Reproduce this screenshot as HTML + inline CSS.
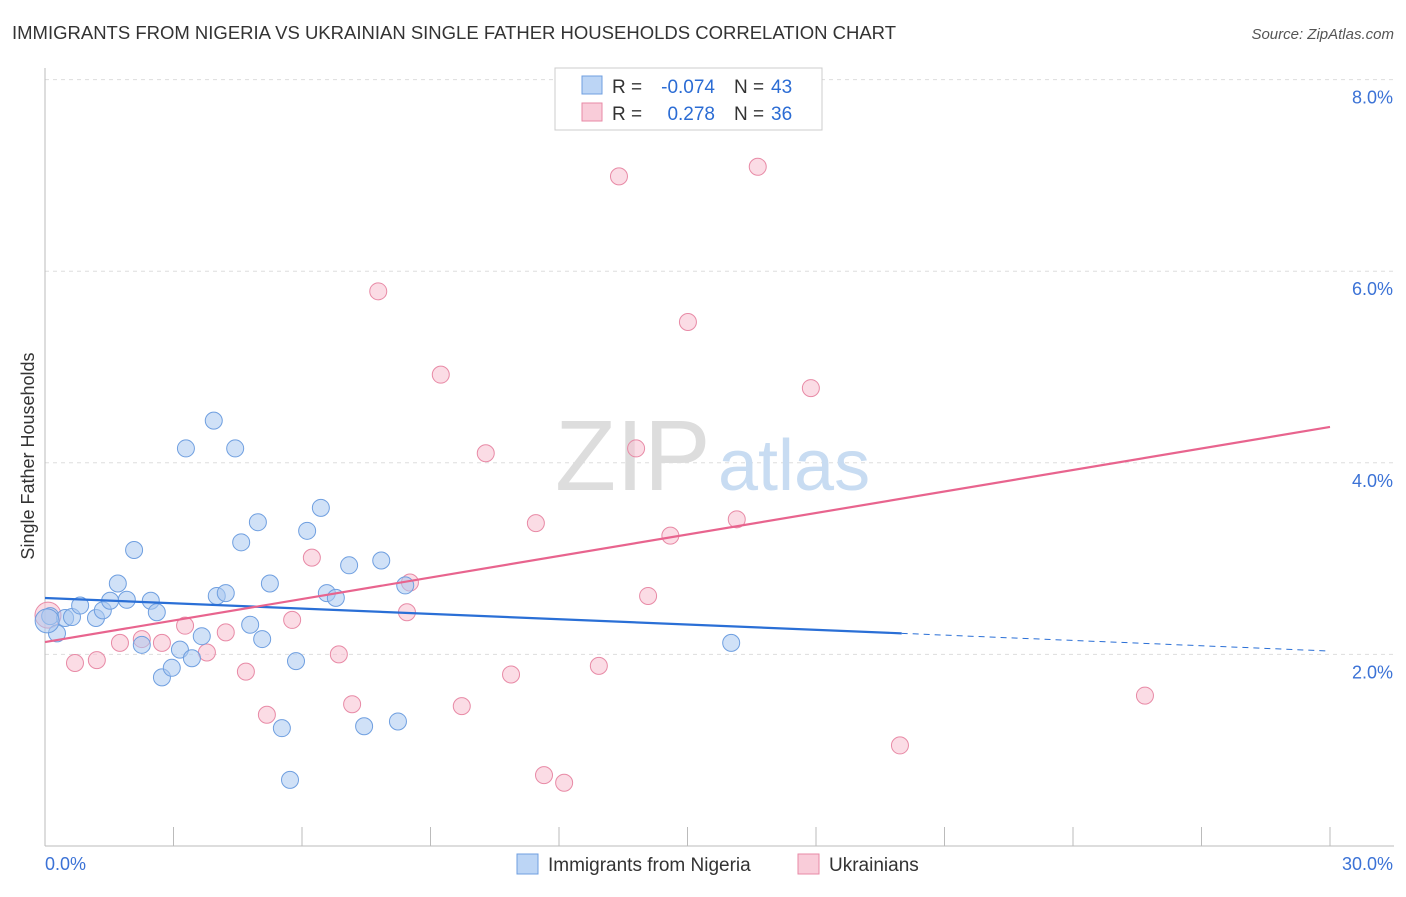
<!DOCTYPE html>
<html><head><meta charset="utf-8"><style>
body{margin:0;background:#fff;font-family:"Liberation Sans",sans-serif;}
svg text{font-family:"Liberation Sans",sans-serif;}
</style></head><body>
<svg width="1406" height="892">
<text x="12" y="39" font-size="18.5" fill="#333">IMMIGRANTS FROM NIGERIA VS UKRAINIAN SINGLE FATHER HOUSEHOLDS CORRELATION CHART</text>
<text x="1394" y="39" font-size="15" fill="#555" font-style="italic" text-anchor="end">Source: ZipAtlas.com</text>
<text x="0" y="0" font-size="18" fill="#333" transform="translate(34,456) rotate(-90)" text-anchor="middle">Single Father Households</text>
<g id="grid"></g>
<text x="555" y="490" font-size="100" fill="#ddd" font-family="Liberation Serif">ZIP</text>
<text x="718" y="490" font-size="72" fill="#c8dcf2">atlas</text>
<g id="points"></g>
<g id="lines"></g>
<g>
<rect x="555" y="68" width="267" height="62" fill="#fff" stroke="#ccc"/>
<rect x="582" y="76" width="20" height="18" fill="#bcd5f5" stroke="#6f9fe0"/>
<rect x="582" y="103" width="20" height="18" fill="#f9ccd9" stroke="#e88aa6"/>
<text x="612" y="93" font-size="19" fill="#333">R =</text>
<text x="715" y="93" font-size="19" fill="#2b6cd4" text-anchor="end">-0.074</text>
<text x="734" y="93" font-size="19" fill="#333">N =</text>
<text x="771" y="93" font-size="19" fill="#2b6cd4">43</text>
<text x="612" y="120" font-size="19" fill="#333">R =</text>
<text x="715" y="120" font-size="19" fill="#2b6cd4" text-anchor="end">0.278</text>
<text x="734" y="120" font-size="19" fill="#333">N =</text>
<text x="771" y="120" font-size="19" fill="#2b6cd4">36</text>
</g>
<g>
<rect x="517" y="854" width="21" height="20" fill="#bcd5f5" stroke="#6f9fe0"/>
<text x="548" y="871" font-size="19" fill="#333">Immigrants from Nigeria</text>
<rect x="798" y="854" width="21" height="20" fill="#f9ccd9" stroke="#e88aa6"/>
<text x="829" y="871" font-size="19" fill="#333">Ukrainians</text>
</g>
</svg>
<script>
const yTicks=[2,4,6,8];
const yTickLabels=["2.0%","4.0%","6.0%","8.0%"];
const xTickLabels=["0.0%","30.0%"];
const blueX=[0.12,0.28,0.47,0.63,0.82,1.19,1.35,1.52,1.70,1.91,2.08,2.26,2.47,2.61,2.73,2.96,3.15,3.29,3.43,3.66,3.94,4.01,4.22,4.44,4.58,4.79,4.97,5.07,5.25,5.53,5.72,5.86,6.12,6.44,6.58,6.79,7.10,7.45,7.85,8.24,8.41,16.02,0.05];
const blueY=[2.40,2.22,2.38,2.39,2.51,2.38,2.46,2.56,2.74,2.57,3.09,2.10,2.56,2.44,1.76,1.86,2.05,4.15,1.96,2.19,4.44,2.61,2.64,4.15,3.17,2.31,3.38,2.16,2.74,1.23,0.69,1.93,3.29,3.53,2.64,2.59,2.93,1.25,2.98,1.30,2.72,2.12,2.35];
const pinkX=[0.07,0.70,1.21,1.75,2.26,2.73,3.27,3.78,4.22,4.69,5.18,5.77,6.23,6.86,7.17,7.78,8.45,8.52,9.24,9.73,10.29,10.88,11.46,11.65,12.12,12.93,13.40,13.80,14.08,14.60,15.01,16.15,16.64,17.88,19.96,25.68];
const pinkY=[2.41,1.91,1.94,2.12,2.16,2.12,2.30,2.02,2.23,1.82,1.37,2.36,3.01,2.00,1.48,5.79,2.44,2.75,4.92,1.46,4.10,1.79,3.37,0.74,0.66,1.88,6.99,4.15,2.61,3.24,5.47,3.41,7.09,4.78,1.05,1.57];
const trendBlue=[2.589,2.035];
const trendPink=[2.129,4.374];
const X0=45,X1=1330,Y0=846,PY=95.8;
const sx=v=>X0+(v/30)*(X1-X0), sy=v=>Y0-v*PY;
const NS="http://www.w3.org/2000/svg";
function mk(t,a,p){const e=document.createElementNS(NS,t);for(const k in a)e.setAttribute(k,a[k]);p.appendChild(e);return e;}
const grid=document.getElementById('grid');
yTicks.forEach((t,i)=>{
 const l=mk('line',{x1:X0,x2:1394,y1:sy(t),y2:sy(t),stroke:'#ddd','stroke-dasharray':'4,4'},grid);
 
 
 const tx=mk('text',{x:1393,y:sy(t)+24,'font-size':18,fill:'#3b72d6','text-anchor':'end'},grid);
 tx.textContent=yTickLabels[i];
 
 
});
const ax=mk('line',{x1:X0,x2:X0,y1:68,y2:Y0,stroke:'#bbb'},grid);


const bx=mk('line',{x1:X0,x2:1394,y1:Y0,y2:Y0,stroke:'#bbb'},grid);


for(let i=1;i<=10;i++){const x=X0+i*(X1-X0)/10;
 const t=mk('line',{x1:x,x2:x,y1:827,y2:Y0,stroke:'#bbb'},grid);
 
 }
[[45,'start',0],[1393,'end',1]].forEach(([x,a,i])=>{
 const t=mk('text',{x:x,y:870,'font-size':18,fill:'#3b72d6','text-anchor':a},grid);
 t.textContent=xTickLabels[i];
 
 });
const pts=document.getElementById('points');
pinkX.forEach((v,i)=>{const c=mk('circle',{cx:sx(v),cy:sy(pinkY[i]),r:i==0?13:8.5,fill:'#f7bfd0','fill-opacity':0.55,stroke:'#e88aa6','stroke-width':1},pts);
 
 });
blueX.forEach((v,i)=>{const c=mk('circle',{cx:sx(v),cy:sy(blueY[i]),r:i==42?12:8.5,fill:'#a9c8f0','fill-opacity':0.55,stroke:'#6f9fe0','stroke-width':1},pts);
 
 });
const ln=document.getElementById('lines');
const bAt=x=>trendBlue[0]+(trendBlue[1]-trendBlue[0])*x/30;
const l1=mk('line',{x1:sx(0),y1:sy(bAt(0)),x2:sx(20),y2:sy(bAt(20)),stroke:'#2a6fd6','stroke-width':2.2},ln);


const l2=mk('line',{x1:sx(20),y1:sy(bAt(20)),x2:sx(30),y2:sy(bAt(30)),stroke:'#2a6fd6','stroke-width':1,'stroke-dasharray':'6,5'},ln);


const l3=mk('line',{x1:sx(0),y1:sy(trendPink[0]),x2:sx(30),y2:sy(trendPink[1]),stroke:'#e8648e','stroke-width':2.2},ln);


</script>
</body></html>
